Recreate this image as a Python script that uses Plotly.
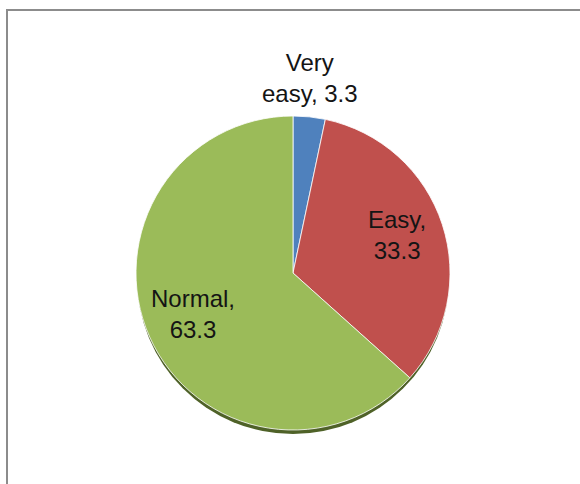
import math
import plotly.graph_objects as go

labels = ["Very easy", "Easy", "Normal"]
values = [3.3, 33.3, 63.3]
text_labels = ["Very<br>easy, 3.3", "Easy,<br>33.3", "Normal,<br>63.3"]
colors = ["#4F81BD", "#C0504D", "#9BBB59"]
label_inside = [False, True, True]

W, H = 580, 484
cx, cy, r = 293, 273, 157  # pixel layout of pie
shadow_dy = 5

def dom(cx, cy, r):
    return dict(x=[(cx - r) / W, (cx + r) / W],
                y=[(H - cy - r) / H, (H - cy + r) / H])

fig = go.Figure()
# shadow
fig.add_trace(go.Pie(
    values=[sum(values)], labels=["shadow"], marker=dict(colors=["#4F6228"]),
    textinfo="none", hoverinfo="skip", sort=False, showlegend=False,
    domain=dom(cx, cy + shadow_dy, r - 1),
))
fig.add_trace(go.Pie(
    labels=labels, values=values,
    textinfo="none",
    sort=False, direction="clockwise", rotation=0,
    marker=dict(colors=colors, line=dict(color="rgba(255,255,255,0.8)", width=1)),
    showlegend=False,
    domain=dom(cx, cy, r),
))

# data labels positioned from slice bisectors
total = sum(values)
cum = 0.0
font = dict(family="Liberation Sans, Arial, sans-serif", size=24, color="#141414")
for txt, v, inside in zip(text_labels, values, label_inside):
    ang = 2 * math.pi * (cum + v / 2) / total
    cum += v
    if inside:
        rr = 0.7 * r
        yanchor = "middle"
    else:
        rr = r + 8
        yanchor = "bottom"
    px = cx + math.sin(ang) * rr
    py = cy - math.cos(ang) * rr - (4 if inside else 0)
    fig.add_annotation(x=px / W, y=(H - py) / H, xref="paper", yref="paper",
                       text=txt, showarrow=False, font=font,
                       xanchor="center", yanchor=yanchor, align="center")

fig.add_shape(type="rect", xref="paper", yref="paper",
              x0=7 / W, x1=1.2, y0=-0.2, y1=(H - 10) / H,
              line=dict(color="#8C8C8C", width=2))

fig.update_layout(width=W, height=H, autosize=False,
                  margin=dict(l=0, r=0, t=0, b=0),
                  paper_bgcolor="white", plot_bgcolor="white")

fig.write_html("out.html", config={"displayModeBar": False},
               post_script="document.body.style.margin='0';")
